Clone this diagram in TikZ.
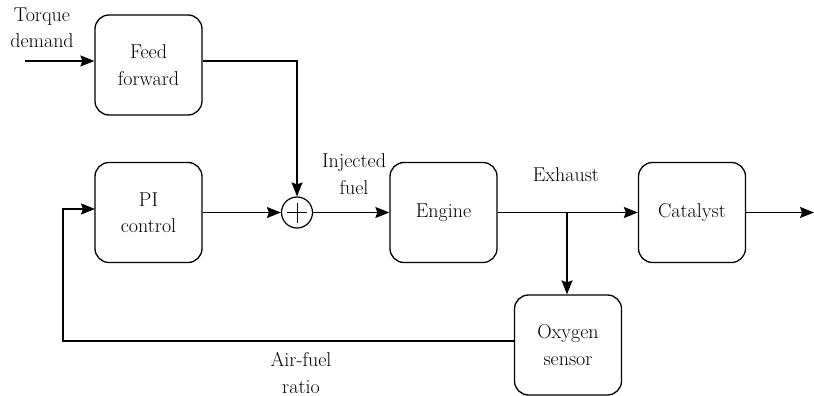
\documentclass[tikz,border=0pt]{standalone}
\usetikzlibrary{arrows.meta,calc}
\begin{document}
\begin{tikzpicture}[x=1pt,y=-1pt,
  blk/.style={draw, line width=1.3pt, rounded corners=14pt, minimum width=107pt, minimum height=100pt, align=center, inner sep=0pt},
  conn/.style={line width=1.2pt},
  arr/.style={conn, -{Stealth[length=14pt, width=11pt, inset=2pt]}},
  lbl/.style={align=center, inner sep=0pt},
  every node/.style={font=\fontsize{20}{26.5}\selectfont}
]
\useasboundingbox (0,0) rectangle (814,396);
\node[blk] (ff) at (148.5,65) {Feed\\forward};
\node[blk] (pi) at (148.5,212.5) {PI\\control};
\node[draw, circle, line width=1.2pt, minimum size=31pt, inner sep=0pt] (sum) at (297,212.5) {};
\draw[line width=0.9pt] ($(sum.center)+(-10,0)$) -- ($(sum.center)+(10,0)$);
\draw[line width=0.9pt] ($(sum.center)+(0,-10)$) -- ($(sum.center)+(0,10)$);
\node[blk] (eng) at (443.5,212.5) {Engine};
\node[blk] (cat) at (692,212.5) {Catalyst};
\node[blk] (oxy) at (568,345) {Oxygen\\sensor};
\coordinate (tq) at (25,61);
\coordinate (br) at (567,212.5);
\coordinate (fb) at (63,341);
\coordinate (fbin) at (95,209);
\coordinate (out) at (814,212.5);
\node[lbl] (tqlbl) at (42,28) {Torque\\demand};
\node[lbl] (inj) at (354,174) {Injected\\fuel};
\node[lbl] (exh) at (566,175) {Exhaust};
\node[lbl] (afr) at (301,373) {Air-fuel\\ratio};
\draw[arr] (tq) -- (ff.west |- tq);
\draw[arr] (ff.east |- tq) -| (sum.north);
\draw[arr] (pi.east) -- (sum.west);
\draw[arr] (sum.east) -- (eng.west);
\draw[arr] (eng.east) -- (cat.west);
\draw[arr] (br) -- (oxy.north -| br);
\draw[arr] (cat.east) -- (out);
\draw[arr] (oxy.west |- fb) -- (fb) |- (fbin);
\end{tikzpicture}
\end{document}
